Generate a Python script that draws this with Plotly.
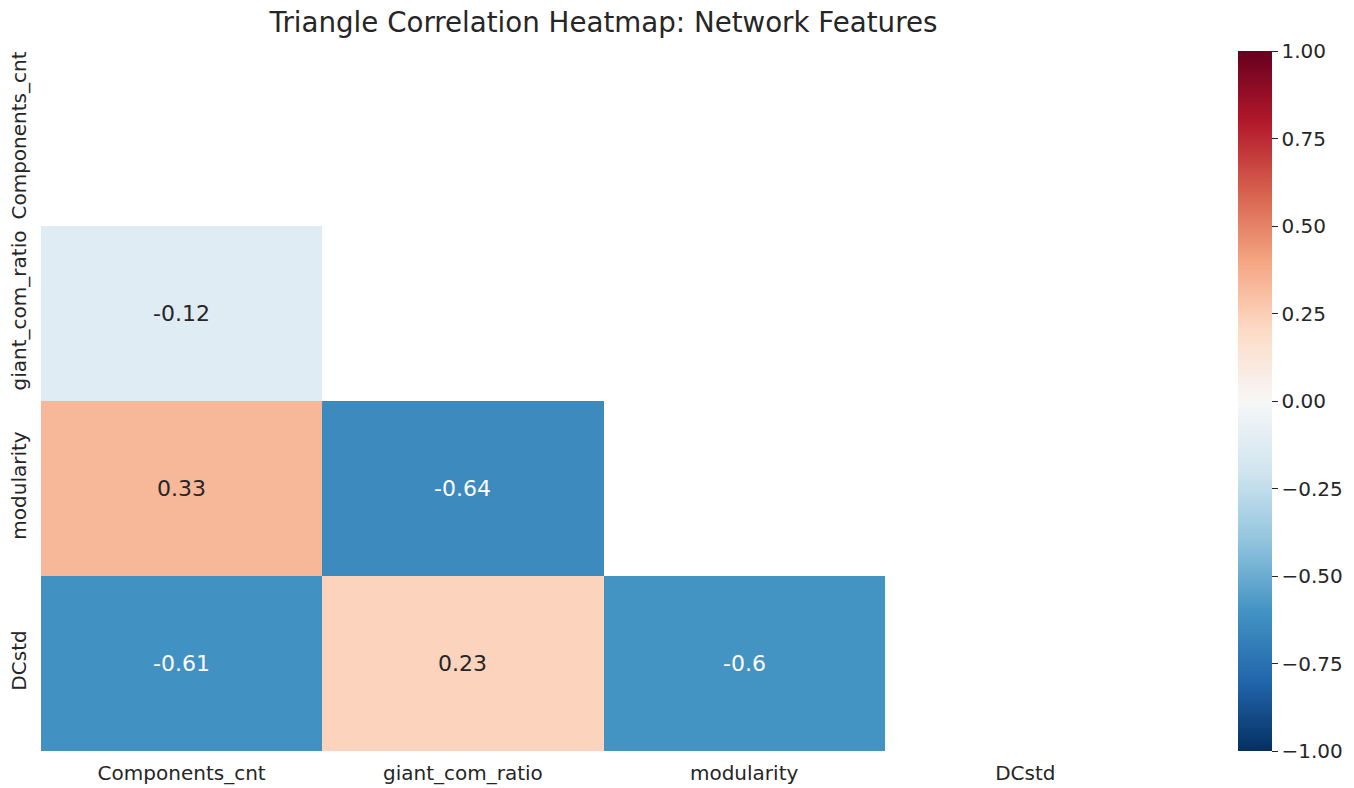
import plotly.graph_objects as go

features = ["Components_cnt", "giant_com_ratio", "modularity", "DCstd"]
# lower-triangle correlations (row = y feature, col = x feature); None = masked
row_components = [None, None, None, None]
row_giant = [-0.12, None, None, None]
row_modularity = [0.33, -0.64, None, None]
row_dcstd = [-0.61, 0.23, -0.6, None]
cbar_ticks = [-1.0, -0.75, -0.5, -0.25, 0.0, 0.25, 0.5, 0.75, 1.0]

z = [row_components, row_giant, row_modularity, row_dcstd]

rdbu = ['rgb(103,0,31)', 'rgb(178,24,43)', 'rgb(214,96,77)', 'rgb(244,165,130)',
        'rgb(253,219,199)', 'rgb(247,247,247)', 'rgb(209,229,240)', 'rgb(146,197,222)',
        'rgb(67,147,195)', 'rgb(33,102,172)', 'rgb(5,48,97)']
rdbu_r = rdbu[::-1]
colorscale = [[i / (len(rdbu_r) - 1), c] for i, c in enumerate(rdbu_r)]

FONT = "DejaVu Sans"
TXT = "#262626"

fig = go.Figure(go.Heatmap(
    z=z, x=features, y=features,
    zmin=-1, zmax=1, colorscale=colorscale,
    hoverongaps=False,
    colorbar=dict(
        xref="container", x=1238 / 1354, xanchor="left", xpad=0, ypad=0,
        yref="paper", y=0.5, yanchor="middle",
        len=1, lenmode="fraction", thickness=34, thicknessmode="pixels",
        outlinewidth=0, tickvals=cbar_ticks, tickformat=".2f",
        ticks="outside", ticklen=6, tickwidth=1.2, tickcolor=TXT,
        tickfont=dict(family=FONT, size=20, color=TXT),
    ),
))

annotations = []
for yi, row in enumerate(z):
    for xi, v in enumerate(row):
        if v is None:
            continue
        annotations.append(dict(
            x=features[xi], y=features[yi], text=f"{v:.2g}", showarrow=False,
            font=dict(family=FONT, size=22, color="white" if abs(v) > 0.5 else TXT),
        ))

fig.update_layout(
    width=1354, height=788,
    margin=dict(l=41, r=188, t=51, b=37, autoexpand=False),
    paper_bgcolor="white", plot_bgcolor="white",
    title=dict(text="Triangle Correlation Heatmap: Network Features",
               x=0.5, xref="paper", y=1 - 22 / 788, yref="container", yanchor="middle",
               font=dict(family=FONT, size=27.7, color=TXT)),
    annotations=annotations,
    font=dict(family=FONT, color=TXT),
)
fig.update_xaxes(showgrid=False, zeroline=False, ticks="", showline=False, automargin=False,
                 tickfont=dict(family=FONT, size=20, color=TXT), ticklabelstandoff=8)
fig.update_yaxes(showgrid=False, zeroline=False, ticks="", showline=False, automargin=False,
                 autorange="reversed", tickangle=-90,
                 tickfont=dict(family=FONT, size=20, color=TXT), ticklabelstandoff=10)

fig.write_html("out.html", config={"displayModeBar": False},
               post_script="document.body.style.margin='0';")
